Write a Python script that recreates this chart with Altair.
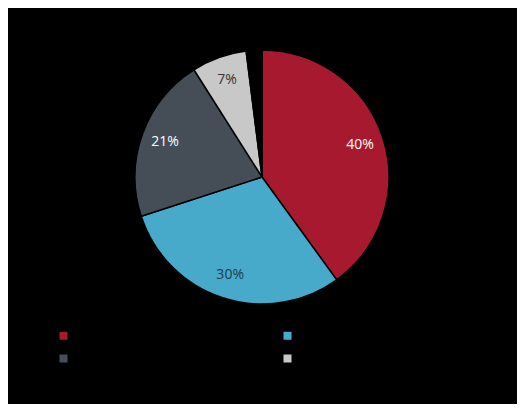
import altair as alt
import pandas as pd

categories = ["Category 1", "Category 2", "Category 3", "Category 4", "Other"]
values = [40, 30, 21, 7, 2]
labels = ["40%", "30%", "21%", "7%", "2%"]
slice_colors = ["#A6192E", "#47AACB", "#454E56", "#C8C8C8", "#000000"]
label_colors = ["#FFFFFF", "#1E3A4E", "#FFFFFF", "#333333", "#000000"]
label_radius = [103, 103, 103, 103, 140]
legend_order = ["Category 1", "Category 3", "Category 2", "Category 4"]

df = pd.DataFrame({
    "category": categories,
    "value": values,
    "label": labels,
    "idx": list(range(len(categories))),
    "tcolor": label_colors,
    "lr": label_radius,
})

color_scale = alt.Scale(domain=categories, range=slice_colors)

base = alt.Chart(df).encode(
    theta=alt.Theta("value:Q", stack=True),
    order=alt.Order("idx:Q"),
    x=alt.value(254),
    y=alt.value(169),
)

pie = base.mark_arc(outerRadius=127, stroke="#000000", strokeWidth=1.5).encode(
    color=alt.Color(
        "category:N",
        scale=color_scale,
        legend=alt.Legend(
            title=None,
            values=legend_order,
            orient="none",
            legendX=50,
            legendY=322,
            columns=2,
            columnPadding=154,
            rowPadding=11,
            symbolType="square",
            symbolSize=64,
            symbolStrokeWidth=0,
            labelColor="#000000",
            labelFont="Open Sans",
            labelFontSize=11,
        ),
    )
)

text = base.mark_text(font="Open Sans", fontSize=14).encode(
    text="label:N",
    radius=alt.Radius("lr:Q", scale=None),
    color=alt.Color("tcolor:N", scale=None),
)

chart = (
    alt.layer(pie, text)
    .properties(width=509, height=396, padding=0, background="#000000")
    .configure_view(stroke=None)
)

chart.save("out.html", embed_options={"renderer": "svg", "actions": False})
